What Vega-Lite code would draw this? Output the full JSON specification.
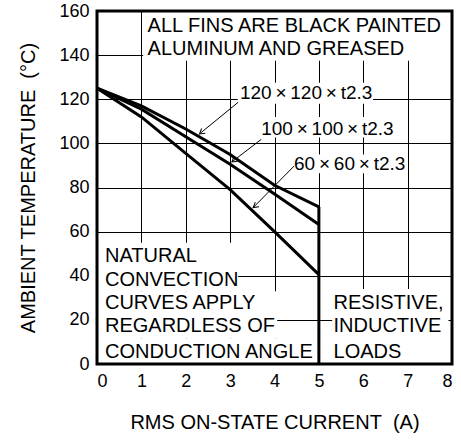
{
  "$schema": "https://vega.github.io/schema/vega-lite/v6.json",
  "width": 355,
  "height": 353,
  "autosize": {"type": "none"},
  "padding": {"left": 97, "top": 11, "right": 9, "bottom": 79},
  "background": "white",
  "config": {
    "view": {"stroke": null},
    "font": "Liberation Sans",
    "axis": {
      "domain": false,
      "ticks": false,
      "grid": true,
      "gridColor": "black",
      "gridWidth": 1,
      "gridOpacity": 1,
      "labelFont": "Liberation Sans",
      "labelFontSize": 18,
      "labelColor": "black",
      "titleFont": "Liberation Sans",
      "titleFontSize": 20,
      "titleFontWeight": "normal",
      "titleColor": "black"
    }
  },
  "datasets": {
    "curves": [
      {"series": "120x120", "x": 0, "y": 125},
      {"series": "120x120", "x": 1, "y": 117},
      {"series": "120x120", "x": 2, "y": 106.5},
      {"series": "120x120", "x": 3, "y": 95},
      {"series": "120x120", "x": 4, "y": 81},
      {"series": "120x120", "x": 5, "y": 71.2},
      {"series": "100x100", "x": 0, "y": 125},
      {"series": "100x100", "x": 1, "y": 115.5},
      {"series": "100x100", "x": 2, "y": 103},
      {"series": "100x100", "x": 3, "y": 90.5},
      {"series": "100x100", "x": 4, "y": 77},
      {"series": "100x100", "x": 5, "y": 63.2},
      {"series": "60x60", "x": 0, "y": 125},
      {"series": "60x60", "x": 1, "y": 112},
      {"series": "60x60", "x": 2, "y": 95.5},
      {"series": "60x60", "x": 3, "y": 79},
      {"series": "60x60", "x": 4, "y": 60},
      {"series": "60x60", "x": 5, "y": 40.5}
    ],
    "boxes": [
      {"x": 1.04, "x2": 8, "y": 137.4, "y2": 160},
      {"x": 0, "x2": 3.18, "y": 33, "y2": 55},
      {"x": 0, "x2": 4.06, "y": 11.5, "y2": 33},
      {"x": 0, "x2": 4.9, "y": 0, "y2": 11.5},
      {"x": 5.3, "x2": 7.92, "y": 0, "y2": 34},
      {"x": 3.17, "x2": 6.22, "y": 118, "y2": 127.5},
      {"x": 3.64, "x2": 6.7, "y": 102.7, "y2": 112},
      {"x": 4.4, "x2": 6.95, "y": 86.5, "y2": 95}
    ],
    "notes": [
      {"text": "ALL FINS ARE BLACK PAINTED", "x": 1.14, "y": 153.2},
      {"text": "ALUMINUM AND GREASED", "x": 1.14, "y": 142.7},
      {"text": "NATURAL", "x": 0.18, "y": 49.1},
      {"text": "CONVECTION", "x": 0.18, "y": 38.2},
      {"text": "CURVES APPLY", "x": 0.18, "y": 27.6},
      {"text": "REGARDLESS OF", "x": 0.18, "y": 17.0},
      {"text": "CONDUCTION ANGLE", "x": 0.18, "y": 5.6},
      {"text": "RESISTIVE,", "x": 5.33, "y": 27.6},
      {"text": "INDUCTIVE", "x": 5.33, "y": 17.0},
      {"text": "LOADS", "x": 5.33, "y": 5.6}
    ],
    "labels": [
      {"text": "120\u2009×\u2009120\u2009×\u2009t2.3", "x": 3.22, "y": 122.7},
      {"text": "100\u2009×\u2009100\u2009×\u2009t2.3", "x": 3.7, "y": 106.7},
      {"text": "60\u2009×\u200960\u2009×\u2009t2.3", "x": 4.44, "y": 90.5}
    ],
    "arrows": [
      {"x": 3.18, "y": 118.6, "x2": 2.31, "y2": 104.3},
      {"x": 3.7, "y": 101.8, "x2": 3.04, "y2": 91.6},
      {"x": 4.44, "y": 89.7, "x2": 3.52, "y2": 70.9}
    ],
    "vline": [{"x": 5, "y": 0, "y2": 71.2}],
    "frame": [{"x": 0, "x2": 8, "y": 0, "y2": 160}]
  },
  "layer": [
    {
      "data": {"name": "boxes"},
      "mark": {"type": "rect", "fill": "white", "stroke": null},
      "encoding": {
        "x": {"field": "x", "type": "quantitative", "scale": {"domain": [0, 8], "nice": false},
          "axis": {"values": [0, 1, 2, 3, 4, 5, 6, 7, 8], "title": "RMS ON-STATE CURRENT\u00a0\u00a0(A)", "labelPadding": 8, "titlePadding": 22}},
        "x2": {"field": "x2"},
        "y": {"field": "y", "type": "quantitative", "scale": {"domain": [0, 160], "nice": false},
          "axis": {"values": [0, 20, 40, 60, 80, 100, 120, 140, 160], "title": "AMBIENT TEMPERATURE\u00a0\u00a0(°C)", "labelPadding": 8, "titlePadding": 20}},
        "y2": {"field": "y2"}
      }
    },
    {
      "data": {"name": "curves"},
      "mark": {"type": "line", "color": "black", "strokeWidth": 3},
      "encoding": {
        "x": {"field": "x", "type": "quantitative"},
        "y": {"field": "y", "type": "quantitative"},
        "detail": {"field": "series"}
      }
    },
    {
      "data": {"name": "vline"},
      "mark": {"type": "rule", "color": "black", "strokeWidth": 3},
      "encoding": {
        "x": {"field": "x", "type": "quantitative"},
        "y": {"field": "y", "type": "quantitative"},
        "y2": {"field": "y2"}
      }
    },
    {
      "data": {"name": "arrows"},
      "mark": {"type": "rule", "color": "black", "strokeWidth": 1},
      "encoding": {
        "x": {"field": "x", "type": "quantitative"},
        "y": {"field": "y", "type": "quantitative"},
        "x2": {"field": "x2"},
        "y2": {"field": "y2"}
      }
    },
    {
      "data": {"name": "arrows"},
      "mark": {"type": "point", "shape": "M -1 -0.6 L 0 0 L -1 0.6", "filled": false, "stroke": "black", "strokeWidth": 1, "size": 100, "angle": 142, "opacity": 1},
      "encoding": {
        "x": {"field": "x2", "type": "quantitative"},
        "y": {"field": "y2", "type": "quantitative"}
      }
    },
    {
      "data": {"name": "notes"},
      "mark": {"type": "text", "align": "left", "baseline": "middle", "fontSize": 20, "font": "Liberation Sans", "color": "black"},
      "encoding": {
        "x": {"field": "x", "type": "quantitative"},
        "y": {"field": "y", "type": "quantitative"},
        "text": {"field": "text"}
      }
    },
    {
      "data": {"name": "labels"},
      "mark": {"type": "text", "align": "left", "baseline": "middle", "fontSize": 19, "font": "Liberation Sans", "color": "black"},
      "encoding": {
        "x": {"field": "x", "type": "quantitative"},
        "y": {"field": "y", "type": "quantitative"},
        "text": {"field": "text"}
      }
    },
    {
      "data": {"name": "frame"},
      "mark": {"type": "rect", "filled": false, "stroke": "black", "strokeWidth": 3},
      "encoding": {
        "x": {"field": "x", "type": "quantitative"},
        "x2": {"field": "x2"},
        "y": {"field": "y", "type": "quantitative"},
        "y2": {"field": "y2"}
      }
    }
  ]
}
